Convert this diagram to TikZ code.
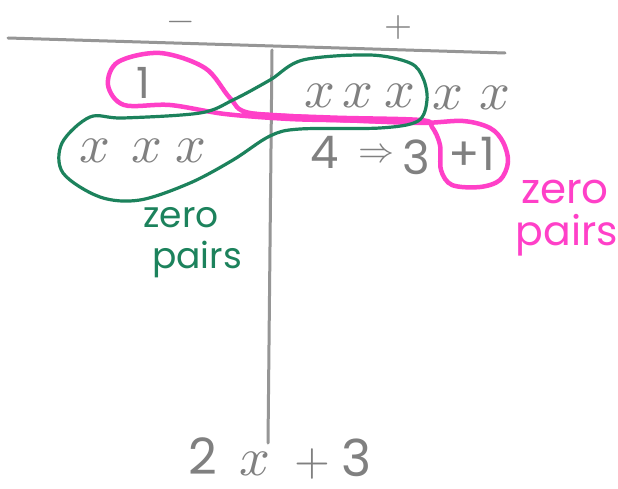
\documentclass[tikz,border=0pt]{standalone}
\usepackage{fontspec}
\usepackage{unicode-math}
\newfontfamily\hand{Poppins}
\definecolor{pencil}{RGB}{128,128,128}
\definecolor{rule}{RGB}{150,150,150}
\definecolor{hotpink}{RGB}{255,64,200}
\definecolor{marker}{RGB}{28,130,92}
\tikzset{
  ruleline/.style={draw=rule, line width=3pt, line cap=round},
  gtext/.style={text=pencil, inner sep=0pt},
  digit/.style={gtext, font=\hand\fontsize{#1}{#1}\selectfont},
  xvar/.style={gtext, font=\fontsize{54}{54}\selectfont},
  pinkloop/.style={draw=hotpink, line width=4.5pt, line cap=round, line join=round},
  greenloop/.style={draw=marker, line width=3.2pt, line cap=round, line join=round},
}
\begin{document}
\begin{tikzpicture}[x=1pt,y=-1pt]
\useasboundingbox[fill=white] (0,0) rectangle (618,489);
% T-chart
\coordinate (hl) at (8,38);
\coordinate (hr) at (505,53);
\coordinate (vt) at (272,50);
\coordinate (vb) at (268,443);
\draw[ruleline] (hl) -- (hr);
\draw[ruleline] (vt) -- (vb);
% headings
\node[gtext, font=\fontsize{34}{34}\selectfont] (minus) at (181,26) {$-$};
\node[gtext, font=\fontsize{36}{36}\selectfont] (plus) at (398,28) {$+$};
% entries
\node[digit=43] (one) at (143,83) {1};
\foreach \i/\xx/\yy in {1/320/96,2/358/96,3/400/96,4/448/98,5/495/98}{
  \node[xvar] (rx\i) at (\xx,\yy) {$x$};
}
\foreach \i/\xx in {1/95,2/147,3/191}{
  \node[xvar] (lx\i) at (\xx,151) {$x$};
}
\node[digit=45] (four) at (325,152) {4};
\node[gtext, font=\fontsize{36}{36}\selectfont] (imp) at (376,154) {$\Rightarrow$};
\node[digit=47] (three) at (416,157) {3};
\node[digit=46] (plusone) at (472,154) {+1};
% result
\node[digit=50] (r2) at (203,456) {2};
\node[xvar] (rx) at (255,464) {$x$};
\node[gtext, font=\fontsize{46}{46}\selectfont] (rplus) at (312,464) {$+$};
\node[digit=51] (r3) at (357,458) {3};
% zero pair loops
\draw[pinkloop] plot[smooth cycle, tension=0.55] coordinates {
 (420,120) (330,117.5) (250,113) (230,98) (205,68) (160,53) (118,62) (108,85) (124,105)
 (170,105) (225,114) (290,119) (350,120.5) (420,123) (463,121) (490,128) (503,142)
 (508,162) (500,180) (480,187) (452,185) (441,170) (440,145) (432,127)};
\draw[pinkloop, line width=6pt] plot[smooth, tension=0.5] coordinates {
 (245,114) (330,119) (418,121.5)};
\draw[greenloop] plot[smooth cycle, tension=0.55] coordinates {
 (423,78) (427,100) (418,121) (380,128) (300,129) (270,136) (233,160) (190,183)
 (140,200) (100,197) (63,173) (62,143) (90,117) (123,118) (200,113) (233,100)
 (270,80) (303,60) (370,55) (410,63)};
% labels
\node[text=marker, inner sep=0pt, font=\hand\fontsize{36}{36}\selectfont] (gz) at (181,218) {zero};
\node[text=marker, inner sep=0pt, font=\hand\fontsize{36}{36}\selectfont] (gp) at (197,259) {pairs};
\node[text=hotpink, inner sep=0pt, font=\hand\fontsize{42}{42}\selectfont] (pz) at (565,192) {zero};
\node[text=hotpink, inner sep=0pt, font=\hand\fontsize{41}{41}\selectfont] (pp) at (567,235) {pairs};
\end{tikzpicture}
\end{document}
